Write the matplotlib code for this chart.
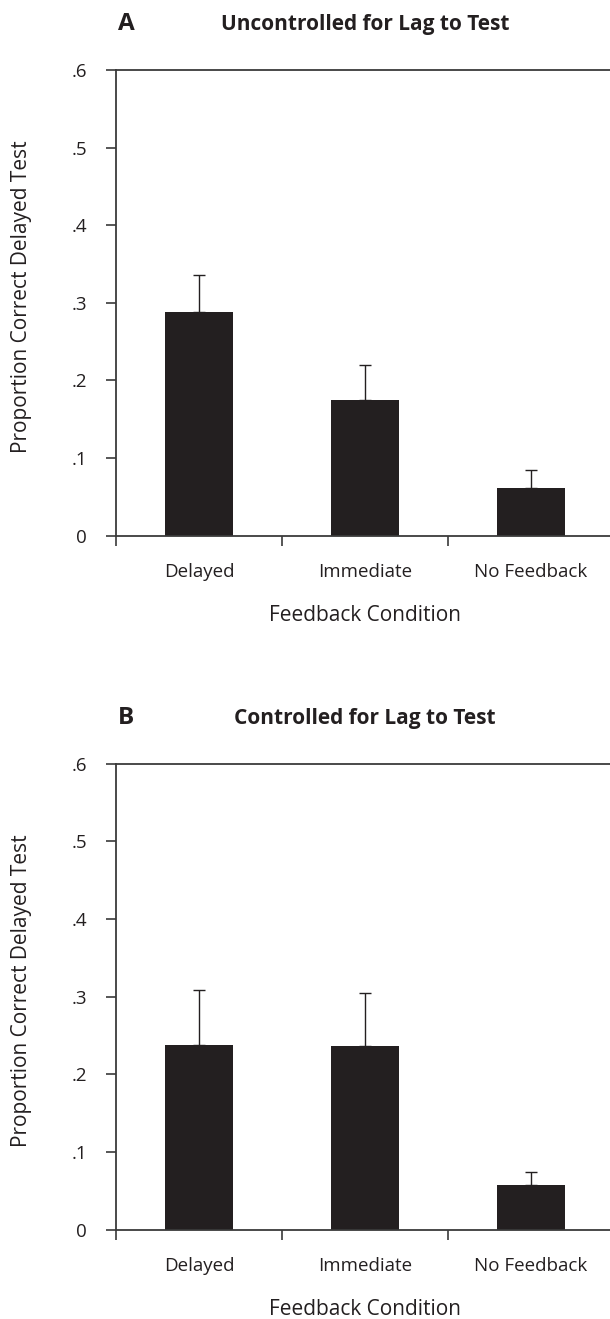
import matplotlib.pyplot as plt

conditions = ["Delayed", "Immediate", "No Feedback"]
# panel A: uncontrolled for lag to test
means_a = [0.288, 0.175, 0.0615]
errs_a = [0.048, 0.045, 0.0235]
# panel B: controlled for lag to test
means_b = [0.238, 0.236, 0.0575]
errs_b = [0.070, 0.069, 0.0172]
yticks = [0, 0.1, 0.2, 0.3, 0.4, 0.5, 0.6]
ytick_labels = ["0", ".1", ".2", ".3", ".4", ".5", ".6"]

plt.rcParams["font.family"] = ["Open Sans", "DejaVu Sans"]
W, H = 610, 1319
fig = plt.figure(figsize=(W / 100, H / 100), dpi=100, facecolor="w")

bar_col = "#231f20"
ax_col = "#3a3a3a"
fs = 13.5


def panel(top_px, bottom_px, means, errs, letter, title):
    ax = fig.add_axes([116 / W, 1 - bottom_px / H, (614 - 116) / W, (bottom_px - top_px) / H])
    x = range(len(conditions))
    ax.bar(x, means, width=0.41, color=bar_col, zorder=2)
    ax.errorbar(x, means, yerr=[[0] * len(errs), errs], fmt="none", ecolor=bar_col,
                elinewidth=1.0, capsize=4, capthick=1.0, zorder=1)
    ax.set_xlim(-0.5, 2.5)
    ax.set_ylim(0, 0.6)
    ax.set_yticks(yticks)
    ax.set_yticklabels(ytick_labels, fontsize=fs, color="#231f20")
    ax.set_xticks([-0.5, 0.5, 1.5, 2.5])
    ax.set_xticklabels([])
    ax.set_xticks(list(x), minor=True)
    ax.set_xticklabels(conditions, minor=True, fontsize=fs, color="#231f20")
    ax.tick_params(axis="x", which="major", direction="out", length=7, width=1.2, color=ax_col)
    ax.tick_params(axis="x", which="minor", length=0, pad=20)
    ax.tick_params(axis="y", direction="out", length=7, width=1.2, color=ax_col, pad=14)
    for s in ["left", "bottom", "top"]:
        ax.spines[s].set_color(ax_col)
        ax.spines[s].set_linewidth(1.3)
    ax.spines["right"].set_visible(False)

    cx = (116 + 614) / 2 / W
    fig.text(22 / W, 1 - (top_px + 227) / H, "Proportion Correct Delayed Test", fontsize=15,
             rotation=90, ha="center", va="center", color="#231f20")
    fig.text(cx, 1 - (bottom_px + 85) / H, "Feedback Condition", fontsize=15,
             ha="center", va="baseline", color="#231f20")
    fig.text(126 / W, 1 - (top_px - 40) / H, letter, fontsize=17.5, fontweight="bold",
             ha="center", va="baseline", color="#231f20")
    fig.text(cx, 1 - (top_px - 40) / H, title, fontsize=15, fontweight="bold",
             ha="center", va="baseline", color="#231f20")
    return ax


panel(70, 535.7, means_a, errs_a, "A", "Uncontrolled for Lag to Test")
panel(763.7, 1229.7, means_b, errs_b, "B", "Controlled for Lag to Test")

fig.savefig("out.png", dpi=100)
